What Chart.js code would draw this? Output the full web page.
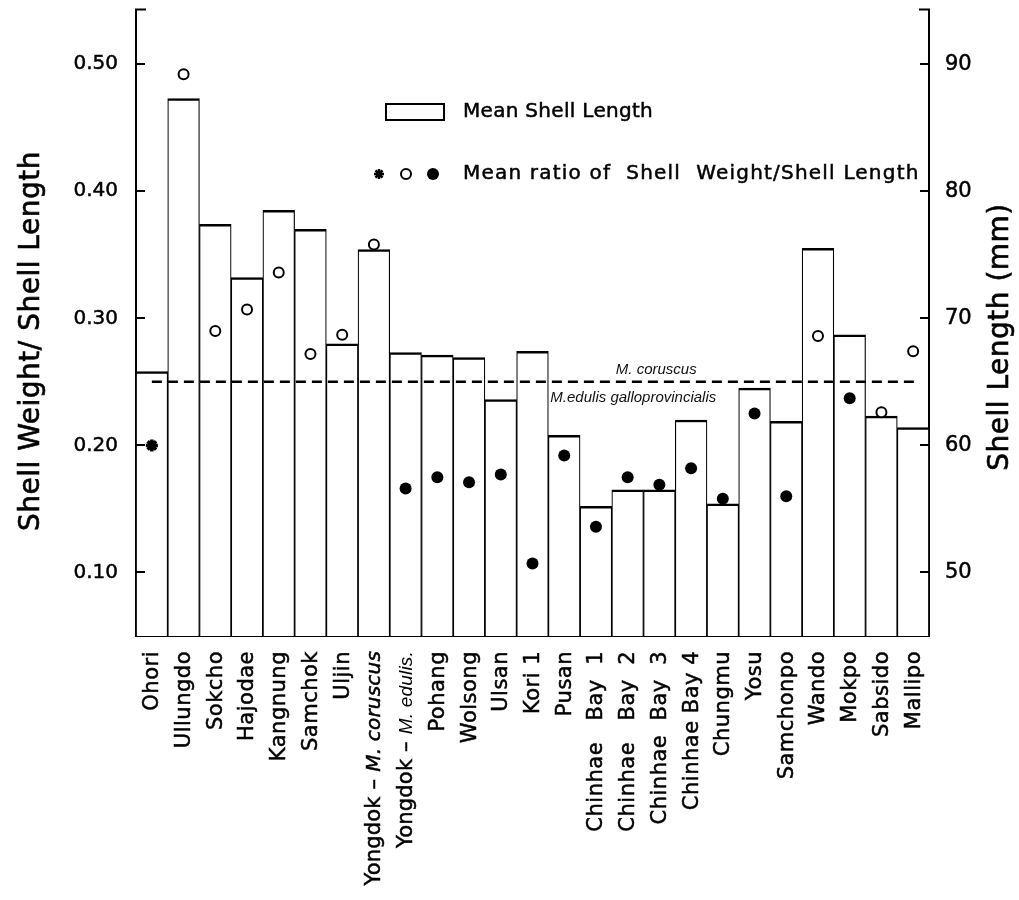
<!DOCTYPE html>
<html><head><meta charset="utf-8">
<script src="https://cdn.jsdelivr.net/npm/chart.js@4.4.0/dist/chart.umd.min.js"></script>
<style>html,body{margin:0;padding:0;background:#fff;}#wrap{width:1019px;height:900px;}</style>
</head><body><div id="wrap"><canvas id="c" width="1019" height="900"></canvas></div>
<script>
// ---- data ----
const sites = ['Ohori','Ullungdo','Sokcho','Hajodae','Kangnung','Samchok','Uljin','Yongdok - M. coruscus','Yongdok - M. edulis.','Pohang','Wolsong','Ulsan','Kori 1','Pusan','Chinhae Bay 1','Chinhae Bay 2','Chinhae Bay 3','Chinhae Bay 4','Chungmu','Yosu','Samchonpo','Wando','Mokpo','Sabsido','Mallipo'];
// x-label segments: [text, style] (0 normal, 1 italic, 2 light italic)
const siteLabelParts = [
  [['Ohori',0]],[['Ullungdo',0]],[['Sokcho',0]],[['Hajodae',0]],[['Kangnung',0]],[['Samchok',0]],[['Uljin',0]],
  [['Yongdok – ',0],['M. coruscus',1]],[['Yongdok – ',0],['M. edulis.',2]],
  [['Pohang',0]],[['Wolsong',0]],[['Ulsan',0]],[['Kori 1',0]],[['Pusan',0]],
  [['Chinhae   Bay  1',0]],[['Chinhae   Bay  2',0]],[['Chinhae  Bay  3',0]],[['Chinhae Bay 4',0]],
  [['Chungmu',0]],[['Yosu',0]],[['Samchonpo',0]],[['Wando',0]],[['Mokpo',0]],[['Sabsido',0]],[['Mallipo',0]]
];
const meanShellLength = [65.8,87.3,77.4,73.2,78.5,77.0,68.0,75.4,67.3,67.1,66.9,63.6,67.4,60.8,55.2,56.5,56.5,62.0,55.4,64.5,61.9,75.5,68.7,62.3,61.4];
const ratioStar   = [0.200,null,null,null,null,null,null,null,null,null,null,null,null,null,null,null,null,null,null,null,null,null,null,null,null];
const ratioOpen   = [null,0.492,0.290,0.307,0.336,0.272,0.287,0.358,null,null,null,null,null,null,null,null,null,null,null,null,null,0.286,null,0.226,0.274];
const ratioFilled = [null,null,null,null,null,null,null,null,0.166,0.175,0.171,0.177,0.107,0.192,0.136,0.175,0.169,0.182,0.158,0.225,0.160,null,0.237,null,null];
const leftTicks  = [0.10,0.20,0.30,0.40,0.50];
const rightTicks = [50,60,70,80,90];
const referenceRatio = 0.25;

const FONT = "'DejaVu Sans'";

function txt(ctx, s, x, y, sw){
  ctx.lineWidth = sw; ctx.strokeText(s, x, y); ctx.fillText(s, x, y);
}

const deco = {
  id:'deco',
  afterDraw(chart){
    const ctx = chart.ctx, ca = chart.chartArea;
    const x = chart.scales.x, yl = chart.scales.y, yr = chart.scales.y1;
    ctx.save();
    ctx.strokeStyle = '#000'; ctx.fillStyle = '#000';
    // inward tick marks & caps
    ctx.lineWidth = 2;
    ctx.beginPath();
    leftTicks.forEach(v=>{const p=Math.round(yl.getPixelForValue(v)); ctx.moveTo(ca.left,p); ctx.lineTo(ca.left+9,p);});
    rightTicks.forEach(v=>{const p=Math.round(yr.getPixelForValue(v)); ctx.moveTo(ca.right,p); ctx.lineTo(ca.right-9,p);});
    ctx.moveTo(ca.left-1,ca.top); ctx.lineTo(ca.left+10,ca.top);
    ctx.moveTo(ca.right+1,ca.top); ctx.lineTo(ca.right-10,ca.top);
    ctx.stroke();
    // reference dashed line
    const ry = yl.getPixelForValue(referenceRatio);
    ctx.setLineDash([10,6]); ctx.lineWidth = 2.5;
    ctx.beginPath(); ctx.moveTo(x.getPixelForValue(0), ry); ctx.lineTo(x.getPixelForValue(sites.length-1)+4, ry); ctx.stroke();
    ctx.setLineDash([]);
    ctx.font = "italic 15px 'Liberation Sans'";
    ctx.textBaseline = 'alphabetic'; ctx.textAlign = 'left';
    ctx.fillStyle = '#fff';
    const w2 = ctx.measureText('M.edulis galloprovincialis').width;
    const ex = (x.getPixelForValue(12)+x.getPixelForValue(13))/2;
    ctx.fillRect(ex+1, ry+4, w2+4, 18);
    ctx.fillStyle = '#111';
    ctx.fillText('M. coruscus', (x.getPixelForValue(14)+x.getPixelForValue(15))/2 + 4, ry-8);
    ctx.fillText('M.edulis galloprovincialis', ex+2, ry+20);
    ctx.fillStyle = '#000';
    // legend
    ctx.lineWidth = 2;
    ctx.strokeRect(386,104,58,16);
    ctx.font = "20px "+FONT; ctx.textBaseline='middle'; ctx.textAlign='left';
    ctx.letterSpacing = '0.3px';
    txt(ctx,'Mean Shell Length', 463, 112, 0.5);
    drawStar(ctx,379,174,5);
    ctx.beginPath(); ctx.arc(406,174,5,0,Math.PI*2); ctx.lineWidth=2; ctx.stroke();
    ctx.beginPath(); ctx.arc(433,174,6,0,Math.PI*2); ctx.fill();
    ctx.letterSpacing = '1.2px';
    txt(ctx,'Mean ratio of  Shell  Weight/Shell Length', 463, 174, 0.5);
    // x labels
    siteLabelParts.forEach((parts,i)=>{
      const cx = x.getPixelForValue(i);
      ctx.save();
      ctx.translate(cx+1, 651);
      ctx.rotate(-Math.PI/2);
      ctx.textBaseline='middle'; ctx.textAlign='left';
      ctx.letterSpacing = parts.length>1 ? '0.2px' : '0.5px';
      const fonts = parts.map(p=> p[1]===0 ? "21px "+FONT : p[1]===1 ? "italic 20px "+FONT : "italic 19px 'Liberation Sans'");
      let tot=0; const ws=parts.map((p,k)=>{ctx.font=fonts[k]; const w=ctx.measureText(p[0]).width; tot+=w; return w;});
      let px=-tot;
      parts.forEach((p,k)=>{ctx.font=fonts[k]; if(p[1]===2){ctx.fillText(p[0],px,0);} else {txt(ctx,p[0],px,0,0.5);} px+=ws[k];});
      ctx.restore();
    });
    // axis titles
    ctx.font = "28px "+FONT; ctx.textAlign='center'; ctx.textBaseline='middle';
    ctx.letterSpacing = '0.5px';
    ctx.save(); ctx.translate(32,341); ctx.rotate(-Math.PI/2); txt(ctx,'Shell Weight/ Shell Length',0,0,0.6); ctx.restore();
    ctx.save(); ctx.translate(1001,337); ctx.rotate(-Math.PI/2); txt(ctx,'Shell Length (mm)',0,0,0.6); ctx.restore();
    ctx.letterSpacing = '0px';
    ctx.restore();
  }
};
function drawStar(ctx,cx,cy,r){
  ctx.save(); ctx.lineWidth=2.5; ctx.beginPath();
  for(let k=0;k<4;k++){const a=k*Math.PI/4; ctx.moveTo(cx-r*Math.cos(a),cy-r*Math.sin(a)); ctx.lineTo(cx+r*Math.cos(a),cy+r*Math.sin(a));}
  ctx.stroke(); ctx.beginPath(); ctx.arc(cx,cy,3,0,Math.PI*2); ctx.fill(); ctx.restore();
}

new Chart(document.getElementById('c'), {
  type:'bar',
  data:{
    labels: sites,
    datasets:[
      {type:'line', label:'Shell weight/length (Ohori)', data:ratioStar, yAxisID:'y', showLine:false, pointStyle:'star', pointRadius:6, pointBorderWidth:3.5, pointBorderColor:'#000', pointBackgroundColor:'#000', order:0},
      {type:'line', label:'Mean ratio of Shell Weight/Shell Length (M. coruscus)', data:ratioOpen, yAxisID:'y', showLine:false, pointStyle:'circle', pointRadius:5, pointBorderWidth:2, pointBorderColor:'#000', pointBackgroundColor:'#fff', order:0},
      {type:'line', label:'Mean ratio of Shell Weight/Shell Length (M. edulis)', data:ratioFilled, yAxisID:'y', showLine:false, pointStyle:'circle', pointRadius:6, pointBorderWidth:0, pointBorderColor:'#000', pointBackgroundColor:'#000', order:0},
      {type:'bar', label:'Mean Shell Length', data:meanShellLength, yAxisID:'y1', backgroundColor:'#fff', borderColor:'#000', borderWidth:{top:2.5,left:1.2,right:1.2,bottom:0}, borderSkipped:false, barPercentage:1, categoryPercentage:1, order:1}
    ]
  },
  options:{
    responsive:false, animation:false, devicePixelRatio:1,
    layout:{padding:{top:8,left:0,right:0,bottom:0}},
    plugins:{legend:{display:false}, tooltip:{enabled:false}},
    scales:{
      x:{type:'category', offset:true, grid:{display:false, drawTicks:false}, border:{display:true,color:'#000',width:2}, ticks:{display:false},
         afterFit(s){s.height=264; s.paddingLeft=0; s.paddingRight=0;}},
      y:{position:'left', min:0.05, max:0.543, grid:{display:false, drawTicks:false}, border:{display:true,color:'#000',width:2},
         afterBuildTicks(s){s.ticks=leftTicks.map(v=>({value:v}));},
         ticks:{color:'#000', font:{family:'DejaVu Sans', size:20}, padding:18, textStrokeColor:'#000', textStrokeWidth:0.5, callback:v=>Number(v).toFixed(2)},
         afterFit(s){s.width=136; s.paddingTop=0; s.paddingBottom=0;}},
      y1:{position:'right', min:45, max:94.3, grid:{display:false, drawTicks:false}, border:{display:true,color:'#000',width:2},
         afterBuildTicks(s){s.ticks=rightTicks.map(v=>({value:v}));},
         ticks:{color:'#000', font:{family:'DejaVu Sans', size:21}, padding:16, textStrokeColor:'#000', textStrokeWidth:0.5, callback:v=>String(v)},
         afterFit(s){s.width=90; s.paddingTop=0; s.paddingBottom=0;}}
    }
  },
  plugins:[deco]
});
</script></body></html>
